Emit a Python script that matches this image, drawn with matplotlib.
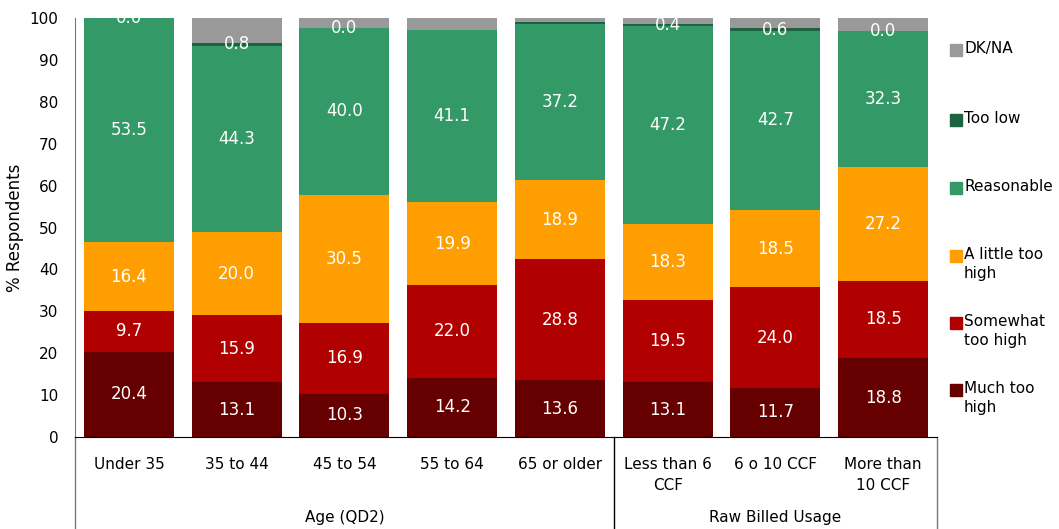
import matplotlib.pyplot as plt
from matplotlib.patches import Rectangle

# categories and groups
categories = ['Under 35', '35 to 44', '45 to 54', '55 to 64', '65 or older',
              'Less than 6\nCCF', '6 o 10 CCF', 'More than\n10 CCF']
groups = ['Age (QD2)', 'Raw Billed Usage']
group_sizes = [5, 3]

# series (bottom to top)
much_too_high = [20.4, 13.1, 10.3, 14.2, 13.6, 13.1, 11.7, 18.8]
somewhat_too_high = [9.7, 15.9, 16.9, 22.0, 28.8, 19.5, 24.0, 18.5]
little_too_high = [16.4, 20.0, 30.5, 19.9, 18.9, 18.3, 18.5, 27.2]
reasonable = [53.5, 44.3, 40.0, 41.1, 37.2, 47.2, 42.7, 32.3]
too_low = [0.0, 0.8, 0.0, 0.0, 0.5, 0.4, 0.6, 0.0]
dk_na = [0.0, 5.9, 2.3, 2.8, 1.0, 1.5, 2.5, 3.2]
# which too-low values get a label
too_low_labels = ['0.0', '0.8', '0.0', None, None, '0.4', '0.6', '0.0']

series = [
    ('Much too\nhigh', much_too_high, '#660000'),
    ('Somewhat\ntoo high', somewhat_too_high, '#B00000'),
    ('A little too\nhigh', little_too_high, '#FF9E00'),
    ('Reasonable', reasonable, '#339966'),
    ('Too low', too_low, '#1E6341'),
    ('DK/NA', dk_na, '#999999'),
]

fig = plt.figure(figsize=(10.59, 5.29), dpi=100)
ax = fig.add_axes([75 / 1059, 1 - 437 / 529, (937 - 75) / 1059, (437 - 18) / 529])

x = list(range(len(categories)))
bottom = [0.0] * len(categories)
for name, vals, col in series:
    ax.bar(x, vals, width=0.835, bottom=bottom, color=col, label=name)
    for i, v in enumerate(vals):
        mid = bottom[i] + v / 2
        if name == 'DK/NA':
            pass
        elif name == 'Too low':
            if too_low_labels[i] is not None:
                ax.text(i, mid, too_low_labels[i], ha='center', va='center',
                        color='white', fontsize=12)
        else:
            ax.text(i, mid, f'{v:.1f}', ha='center', va='center',
                    color='white', fontsize=12)
    bottom = [b + v for b, v in zip(bottom, vals)]

ax.set_xlim(-0.5, len(categories) - 0.5)
ax.set_ylim(0, 100)
ax.set_yticks(range(0, 101, 10))
ax.tick_params(axis='y', length=0, labelsize=11, pad=12)
ax.set_xticks([])
ax.set_ylabel('% Respondents', fontsize=12)
for s in ['top', 'right']:
    ax.spines[s].set_visible(False)
ax.spines['left'].set_color('#777777')
ax.spines['bottom'].set_color('black')

# category labels
for i, c in enumerate(categories):
    ax.text(i, -4.7, c, ha='center', va='top', fontsize=11,
            linespacing=1.55)

# group labels and separators
trans = ax.get_xaxis_transform()
start = -0.5
for g, n in zip(groups, group_sizes):
    ax.text(start + n / 2, -0.193, g, ha='center', va='center', fontsize=11,
            transform=trans)
    start += n
seps = [-0.5, 4.5, 7.5]
for i, s in enumerate(seps):
    col = 'black' if i == 1 else '#777777'
    ax.plot([s, s], [0, -0.3], color=col, lw=1, transform=trans, clip_on=False)

# legend (top to bottom)
leg_y = [50, 120, 188, 256, 323, 390]
for (name, vals, col), py in zip(series[::-1], leg_y):
    fy = 1 - py / 529
    fig.patches.append(Rectangle((950 / 1059, fy - 6 / 529), 12 / 1059, 12 / 529,
                                 transform=fig.transFigure, color=col))
    fig.text(964 / 1059, fy + 9 / 529, name, ha='left', va='top', fontsize=11,
             linespacing=1.3)

plt.savefig('out.png')
